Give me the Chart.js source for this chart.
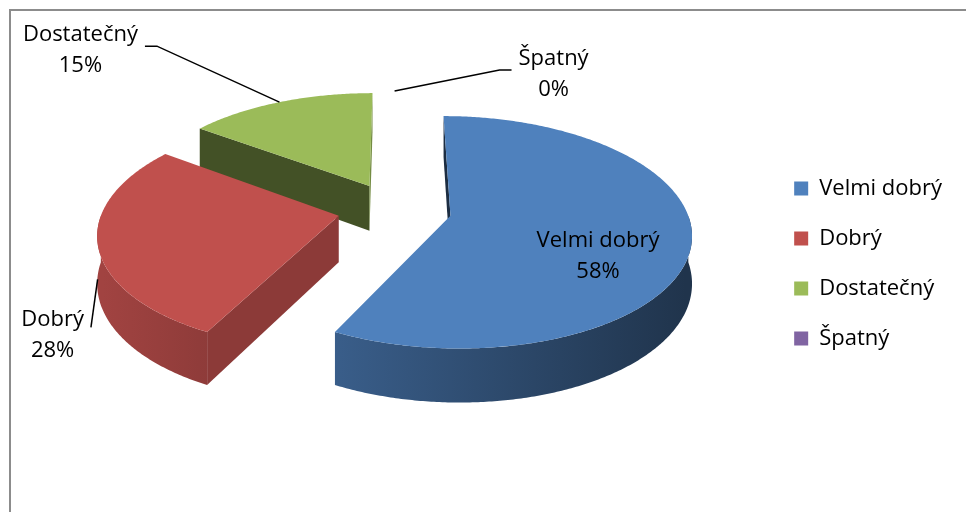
<!DOCTYPE html>
<html>
<head>
<meta charset="utf-8">
<script src="https://cdn.jsdelivr.net/npm/chart.js@4"></script>
<style>
  html, body { margin: 0; padding: 0; background: #fff; }
  #frame { position: absolute; left: 9px; top: 9px; width: 1000px; height: 600px;
           border-left: 2px solid #8c8c8c; border-top: 2px solid #8c8c8c; }
  #wrap { position: absolute; left: 0; top: 0; width: 966px; height: 512px; }
</style>
</head>
<body>
<div id="frame"></div>
<div id="wrap"><canvas id="chart"></canvas></div>
<script>
const categories = ["Velmi dobrý", "Dobrý", "Dostatečný", "Špatný"];
const shares = [57.5, 27.5, 15, 0];
const sliceColors = ["#4f81bd", "#c0504d", "#9bbb59", "#8064a2"];

// Chart.js has no 3D pie, so the plate is tilted and given a thickness here
const tilt = 0.475;
const persp = 1682;
const thick = 46;
const lift = 54;
const labelFont = "22px 'Open Sans'";
// label offsets from the slice anchor (null = inside the slice)
const labelSpots = [null, [-45, 56], [-199, -52], [159, -17]];

function shade(hex, f) {
  const n = parseInt(hex.slice(1), 16);
  const r = Math.round(((n >> 16) & 255) * f);
  const g = Math.round(((n >> 8) & 255) * f);
  const b = Math.round((n & 255) * f);
  return `rgb(${r},${g},${b})`;
}

const pie3d = {
  id: "pie3d",
  beforeDatasetsDraw(chart) {
    const ctx = chart.ctx;
    const arcs = chart.getDatasetMeta(0).data;
    const total = shares.reduce((a, b) => a + b, 0);
    const cx = arcs[0].x, cy = arcs[0].y - lift;

    function P(u, v, h) {
      const s = 1 / (1 - v / persp);
      return [cx + u * s, cy + (v * tilt + h) * s];
    }

    const parts = arcs.map((el, i) => {
      const d = (el.options.offset || 0) / 4;
      const mid = (el.startAngle + el.endAngle) / 2;
      return { el, i, mid, eu: d * Math.cos(mid), ev: d * Math.sin(mid) };
    });

    const order = parts.slice().sort((a, b) => a.ev - b.ev);
    ctx.save();
    for (const p of order) {
      const el = p.el;
      const s0 = el.startAngle, e0 = el.endAngle;
      if (e0 - s0 < 1e-6) continue;
      const R = el.outerRadius;
      const base = el.options.backgroundColor;
      const rim = (t, h) => P(p.eu + R * Math.cos(t), p.ev + R * Math.sin(t), h);
      const apex = h => P(p.eu, p.ev, h);

      // flat cut faces
      for (const [t, sg] of [[s0, -1], [e0, 1]]) {
        const nu = -sg * Math.sin(t), nv = sg * Math.cos(t);
        if (nu * (0 - p.eu) + nv * (persp - p.ev) <= 0) continue;
        const pts = [apex(0), rim(t, 0), rim(t, thick), apex(thick)];
        ctx.beginPath();
        pts.forEach((q, k) => k ? ctx.lineTo(q[0], q[1]) : ctx.moveTo(q[0], q[1]));
        ctx.closePath();
        ctx.fillStyle = shade(base, 0.55 + 0.2 * nu);
        ctx.fill();
      }

      // curved outer wall, front half only
      for (const k of [-1, 0, 1]) {
        const lo = Math.max(s0, 2 * Math.PI * k), hi = Math.min(e0, 2 * Math.PI * k + Math.PI);
        if (hi - lo < 1e-4) continue;
        const n = Math.ceil((hi - lo) / 0.01);
        ctx.beginPath();
        for (let j = 0; j <= n; j++) {
          const q = rim(lo + (hi - lo) * j / n, 0);
          j ? ctx.lineTo(q[0], q[1]) : ctx.moveTo(q[0], q[1]);
        }
        for (let j = n; j >= 0; j--) {
          const q = rim(lo + (hi - lo) * j / n, thick);
          ctx.lineTo(q[0], q[1]);
        }
        ctx.closePath();
        const g = ctx.createLinearGradient(cx + p.eu - R, 0, cx + p.eu + R, 0);
        g.addColorStop(0, shade(base, 0.84));
        g.addColorStop(1, shade(base, 0.40));
        ctx.fillStyle = g;
        ctx.fill();
      }

      // top face
      const n = Math.ceil((e0 - s0) / 0.01);
      ctx.beginPath();
      const a0 = apex(0);
      ctx.moveTo(a0[0], a0[1]);
      for (let j = 0; j <= n; j++) {
        const q = rim(s0 + (e0 - s0) * j / n, 0);
        ctx.lineTo(q[0], q[1]);
      }
      ctx.closePath();
      ctx.fillStyle = base;
      ctx.fill();
    }

    // data labels
    ctx.font = labelFont;
    ctx.fillStyle = "#000";
    ctx.strokeStyle = "#000";
    ctx.lineWidth = 1.5;
    ctx.textAlign = "center";
    ctx.textBaseline = "middle";
    for (const p of parts) {
      const lines = [categories[p.i], Math.round(shares[p.i] * 100 / total) + "%"];
      const R = p.el.outerRadius;
      const spot = labelSpots[p.i];
      let lx, ly;
      if (!spot) {
        [lx, ly] = P(p.eu + 0.62 * R * Math.cos(p.mid), p.ev + 0.62 * R * Math.sin(p.mid), thick / 2);
      } else {
        const front = Math.sin(p.mid) > 0;
        const a = P(p.eu + R * Math.cos(p.mid), p.ev + R * Math.sin(p.mid), front ? thick * 0.75 : 0);
        lx = a[0] + spot[0];
        ly = a[1] + spot[1];
        const w = Math.max(...lines.map(t => ctx.measureText(t).width));
        const half = w / 2 + 7;
        const edgeX = spot[0] < 0 ? lx + half : lx - half;
        ctx.beginPath();
        if (Math.abs(spot[0]) > Math.abs(spot[1])) {
          const stub = edgeX + (spot[0] < 0 ? 12 : -12);
          ctx.moveTo(edgeX, ly - 4);
          ctx.lineTo(stub, ly - 4);
        } else {
          ctx.moveTo(edgeX, ly - 8);
        }
        ctx.lineTo(a[0], a[1]);
        ctx.stroke();
      }
      ctx.fillText(lines[0], lx, ly - 15.5);
      ctx.fillText(lines[1], lx, ly + 15.5);
    }
    ctx.restore();
    return false;
  }
};

Chart.defaults.font.family = "'Open Sans'";

new Chart(document.getElementById("chart"), {
  type: "pie",
  data: {
    labels: categories,
    datasets: [{
      data: shares,
      backgroundColor: sliceColors,
      borderWidth: 0,
      offset: 228,
      radius: 236
    }]
  },
  options: {
    responsive: true,
    maintainAspectRatio: false,
    animation: false,
    layout: { padding: { left: 23, right: 14, top: 15, bottom: 0 } },
    plugins: {
      tooltip: { enabled: false },
      legend: {
        position: "right",
        labels: {
          boxWidth: 14,
          boxHeight: 14,
          padding: 28,
          color: "#000",
          font: { family: "'Open Sans'", size: 22 }
        }
      }
    }
  },
  plugins: [pie3d]
});
</script>
</body>
</html>
